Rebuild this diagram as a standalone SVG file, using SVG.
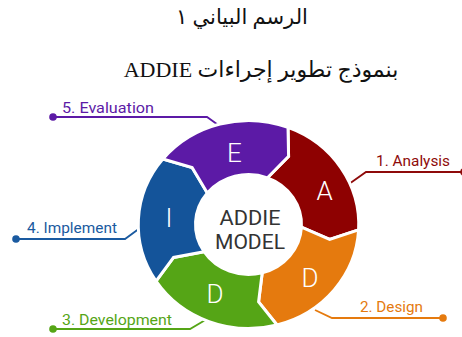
<svg xmlns="http://www.w3.org/2000/svg" width="462" height="337" viewBox="0 0 462 337">
<style>
.title{font-family:"Liberation Serif","DejaVu Serif","DejaVu Sans",serif;font-size:21px;fill:#111;text-anchor:middle}
.lbl{font-family:Roboto,"Liberation Sans",sans-serif;font-size:15px}
.seg{stroke:#fff;stroke-width:3;stroke-linejoin:miter}
.let{font-family:Roboto,"Liberation Sans",sans-serif;font-weight:300;font-size:26px;fill:#fff;text-anchor:middle}
.ctr{font-family:Roboto,"Liberation Sans",sans-serif;font-size:21px;fill:#333;text-anchor:middle}
.ln{fill:none;stroke-width:1.8}
</style>
<rect width="462" height="337" fill="#fff"/>
<g id="title">
<text class="title" x="242" y="24" direction="rtl">الرسم البياني ١</text>
<text class="title" x="261" y="77" direction="rtl" style="font-size:22px">بنموذج تطوير إجراءات ADDIE</text>
</g>
<g id="connectors">
<polyline class="ln" stroke="#8e0a0a" points="349,184 366,172 462,172"/>
<circle cx="464" cy="172" r="3.8" fill="#8e0a0a"/>
<polyline class="ln" stroke="#e57a0e" points="315,310 332,318 443,318"/>
<circle cx="443" cy="318" r="3.8" fill="#e57a0e"/>
<polyline class="ln" stroke="#55a516" points="207,319 190,329 53,329"/>
<circle cx="53" cy="329" r="3.8" fill="#55a516"/>
<polyline class="ln" stroke="#1a5aa0" points="140,228 125,239 16,239"/>
<circle cx="16" cy="239" r="3.8" fill="#1a5aa0"/>
<polyline class="ln" stroke="#5c1aa6" points="221,127 207,117 53,117"/>
<circle cx="53" cy="117" r="3.8" fill="#5c1aa6"/>
</g>
<g id="analysis">
<path class="seg" fill="#8e0101" d="M288.01,127.41 A110.24,104 0 0 1 358.59,229.94 L329.66,239.38 L301.43,227.12 A53,50 0 0 0 267.49,177.82 L288.58,156.28 Z"/>
<text class="let" x="324.5" y="200">A</text>
<text class="lbl" x="376" y="166" fill="#8e0a0a" textLength="74" lengthAdjust="spacingAndGlyphs">1. Analysis</text>
</g>
<g id="design">
<path class="seg" fill="#e57a0e" d="M358.59,229.94 A110.24,104 0 0 1 277.03,324.96 L258.58,301.92 L262.22,272.8 A53,50 0 0 0 301.43,227.12 L329.66,239.38 Z"/>
<text class="let" x="310" y="287">D</text>
<text class="lbl" x="360" y="312" fill="#e57a0e" textLength="63" lengthAdjust="spacingAndGlyphs">2. Design</text>
</g>
<g id="development">
<path class="seg" fill="#55a516" d="M277.03,324.96 A110.24,104 0 0 1 156.05,281.14 L173.57,257.46 L204.05,251.73 A53,50 0 0 0 262.22,272.8 L258.58,301.92 Z"/>
<text class="let" x="215" y="303">D</text>
<text class="lbl" x="62" y="325" fill="#55a516" textLength="110" lengthAdjust="spacingAndGlyphs">3. Development</text>
</g>
<g id="implement">
<path class="seg" fill="#14549a" d="M156.05,281.14 A110.24,104 0 0 1 162.83,159.05 L192.11,167.45 L207.31,193.03 A53,50 0 0 0 204.05,251.73 L173.57,257.46 Z"/>
<text class="let" x="169" y="227">I</text>
<text class="lbl" x="27" y="233" fill="#1a5aa0" textLength="90" lengthAdjust="spacingAndGlyphs">4. Implement</text>
</g>
<g id="evaluation">
<path class="seg" fill="#5c1aa6" d="M162.83,159.05 A110.24,104 0 0 1 288.01,127.41 L288.58,156.28 L267.49,177.82 A53,50 0 0 0 207.31,193.03 L192.11,167.45 Z"/>
<text class="let" x="234.5" y="162">E</text>
<text class="lbl" x="62" y="113" fill="#5c1aa6" textLength="92" lengthAdjust="spacingAndGlyphs">5. Evaluation</text>
</g>
<g id="center">
<text class="ctr" x="250" y="225" textLength="61" lengthAdjust="spacingAndGlyphs">ADDIE</text>
<text class="ctr" x="250" y="249" textLength="70" lengthAdjust="spacingAndGlyphs">MODEL</text>
</g>
</svg>
